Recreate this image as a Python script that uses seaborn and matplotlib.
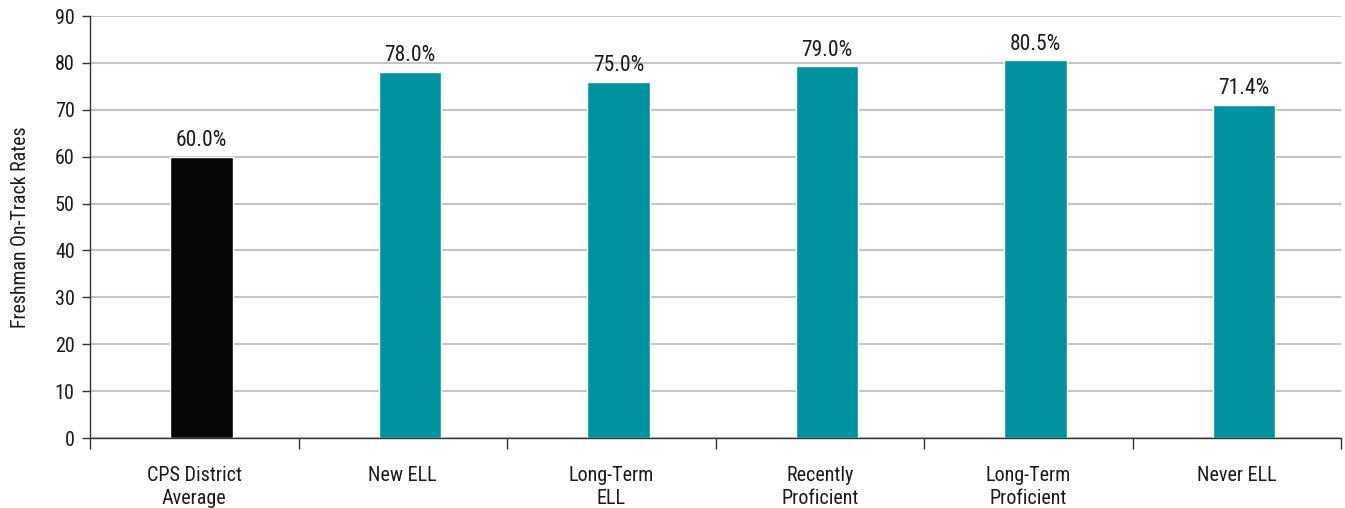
import matplotlib
matplotlib.use("Agg")
import matplotlib.pyplot as plt
from matplotlib import font_manager as fm
import seaborn as sns
import pandas as pd
from matplotlib.ticker import FixedLocator, MultipleLocator

categories = ["CPS District\nAverage", "New ELL", "Long-Term\nELL",
              "Recently\nProficient", "Long-Term\nProficient", "Never ELL"]
values = [60.0, 78.1, 76.0, 79.3, 80.6, 71.1]
value_labels = ["60.0%", "78.0%", "75.0%", "79.0%", "80.5%", "71.4%"]
colors = ["#060606", "#00929F", "#00929F", "#00929F", "#00929F", "#00929F"]

sns.set_theme(style="white")
available = {f.name for f in fm.fontManager.ttflist}
prefs = ["Liberation Sans Narrow", "Roboto Condensed", "Arial Narrow", "PT Sans Narrow",
         "Archivo Narrow", "Pragati Narrow", "Asap Condensed", "Liberation Sans"]
chosen = [p for p in prefs if p in available][:1]
plt.rcParams["font.family"] = chosen + ["DejaVu Sans"]

df = pd.DataFrame({"cat": categories, "val": values})

fig = plt.figure(figsize=(13.45, 5.08), dpi=100)
ax = fig.add_axes([90 / 1345, 70 / 508, (1341 - 90) / 1345, (438 - 16) / 508])

sns.barplot(data=df, x="cat", y="val", hue="cat", palette=colors,
            width=0.3, legend=False, ax=ax, saturation=1)

# bars sit slightly right of category centres in the reference
shift = 0.035
for p in ax.patches:
    p.set_x(p.get_x() + shift)

ax.set_ylim(0, 90)
ax.set_xlim(-0.5, len(categories) - 0.5)
ax.yaxis.set_major_locator(MultipleLocator(10))
ax.yaxis.grid(True, color="#c4c4c4", linewidth=1.5)
ax.set_axisbelow(True)

for sp in ["top", "right"]:
    ax.spines[sp].set_visible(False)
for sp in ["left", "bottom"]:
    ax.spines[sp].set_color("#333333")
    ax.spines[sp].set_linewidth(1.0)

ax.tick_params(axis="y", which="major", direction="out", length=6, width=1,
               color="#333333", labelsize=14.5, labelcolor="#1a1a1a", pad=5, left=True)
ax.tick_params(axis="x", which="major", length=0, pad=20, labelsize=14.5, labelcolor="#1a1a1a")
ax.xaxis.set_minor_locator(FixedLocator([i - 0.5 for i in range(len(categories) + 1)]))
ax.tick_params(axis="x", which="minor", direction="out", length=8, width=1,
               color="#333333", bottom=True)
for t in ax.get_xticklabels():
    t.set_linespacing(1.3)

ax.set_xlabel("")
ax.set_ylabel("Freshman On-Track Rates", fontsize=14.3, color="#1a1a1a", labelpad=18)

for i, (v, lab) in enumerate(zip(values, value_labels)):
    ax.annotate(lab, (i + shift, v), xytext=(0, 4), textcoords="offset points",
                ha="center", va="bottom", fontsize=15.5, color="#1a1a1a")

fig.savefig("out.png", dpi=100)
